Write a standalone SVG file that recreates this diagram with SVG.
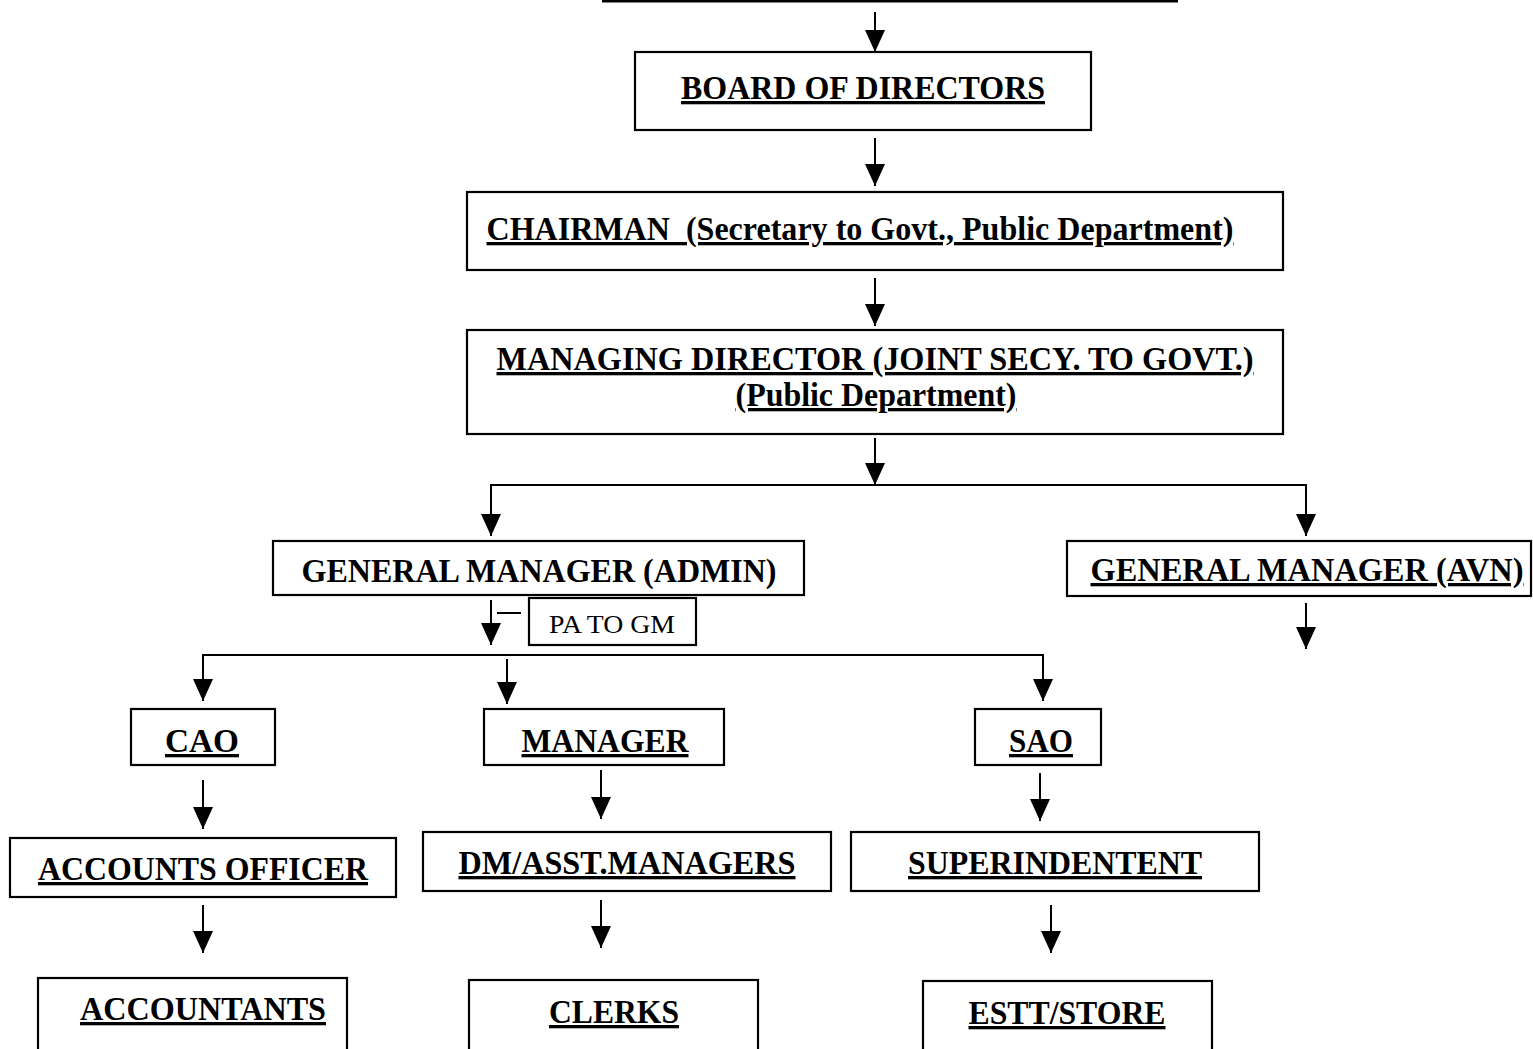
<svg xmlns="http://www.w3.org/2000/svg" width="1533" height="1049" viewBox="0 0 1533 1049">
<defs>
<marker id="arr" markerUnits="userSpaceOnUse" viewBox="0 0 22 20" refX="22" refY="10" markerWidth="22" markerHeight="20" orient="auto">
<path d="M0,0 L22,10 L0,20 z" fill="#000"/>
</marker>
<style>
.box{fill:#fff;stroke:#000;stroke-width:2.2}
.t{font-family:"Liberation Serif","Times New Roman",serif;font-weight:bold;font-size:33px;fill:#000;text-anchor:middle}
.u{text-decoration:underline;text-decoration-thickness:3px}
.n{font-family:"Liberation Serif","Times New Roman",serif;font-size:25px;fill:#000;text-anchor:middle}
.c{stroke:#000;stroke-width:2;fill:none}
.a{stroke:#000;stroke-width:2;fill:none;marker-end:url(#arr)}
</style>
</defs>
<rect width="1533" height="1049" fill="#fff"/>
<g id="connectors">
<line class="c" x1="602" y1="1" x2="1178" y2="1" style="stroke-width:3"/>
<line class="a" x1="875" y1="12" x2="875" y2="52"/>
<line class="a" x1="875" y1="138" x2="875" y2="186"/>
<line class="a" x1="875" y1="278" x2="875" y2="326"/>
<line class="a" x1="875" y1="438" x2="875" y2="485"/>
<polyline class="c" points="491,535 491,485 1306,485 1306,535"/>
<line class="a" x1="491" y1="486" x2="491" y2="536"/>
<line class="a" x1="1306" y1="486" x2="1306" y2="536"/>
<line class="a" x1="1306" y1="603" x2="1306" y2="649"/>
<line class="a" x1="491" y1="600" x2="491" y2="645"/>
<line class="c" x1="497" y1="613" x2="521" y2="613"/>
<polyline class="c" points="203,700 203,655 1043,655 1043,700"/>
<line class="a" x1="203" y1="656" x2="203" y2="701"/>
<line class="a" x1="507" y1="659" x2="507" y2="704"/>
<line class="a" x1="1043" y1="656" x2="1043" y2="701"/>
<line class="a" x1="203" y1="780" x2="203" y2="829"/>
<line class="a" x1="601" y1="770" x2="601" y2="819"/>
<line class="a" x1="1040" y1="773" x2="1040" y2="821"/>
<line class="a" x1="203" y1="905" x2="203" y2="953"/>
<line class="a" x1="601" y1="900" x2="601" y2="948"/>
<line class="a" x1="1051" y1="905" x2="1051" y2="953"/>
</g>
<g id="board"><rect class="box" x="635" y="52" width="456" height="78"/><text class="t u" x="863" y="99" textLength="364" lengthAdjust="spacingAndGlyphs">BOARD OF DIRECTORS</text></g>
<g id="chairman"><rect class="box" x="467" y="192" width="816" height="78"/><text class="t u" x="860" y="240" textLength="747" lengthAdjust="spacingAndGlyphs" xml:space="preserve">CHAIRMAN  (Secretary to Govt., Public Department)</text></g>
<g id="md"><rect class="box" x="467" y="330" width="816" height="104"/><text class="t u" x="875" y="370" textLength="757" lengthAdjust="spacingAndGlyphs">MANAGING DIRECTOR (JOINT SECY. TO GOVT.)</text><text class="t u" x="876" y="406" textLength="281" lengthAdjust="spacingAndGlyphs">(Public Department)</text></g>
<g id="gm-admin"><rect class="box" x="273" y="541" width="531" height="54"/><text class="t" x="539" y="582" textLength="475" lengthAdjust="spacingAndGlyphs">GENERAL MANAGER (ADMIN)</text></g>
<g id="gm-avn"><rect class="box" x="1067" y="541" width="464" height="55"/><text class="t u" x="1307" y="581" textLength="433" lengthAdjust="spacingAndGlyphs">GENERAL MANAGER (AVN)</text></g>
<g id="pa"><rect class="box" x="529" y="598" width="167" height="47"/><text class="n" x="612" y="633" textLength="126" lengthAdjust="spacingAndGlyphs">PA TO GM</text></g>
<g id="cao"><rect class="box" x="131" y="709" width="144" height="56"/><text class="t u" x="202" y="752" textLength="74" lengthAdjust="spacingAndGlyphs">CAO</text></g>
<g id="manager"><rect class="box" x="484" y="709" width="240" height="56"/><text class="t u" x="605" y="752" textLength="167" lengthAdjust="spacingAndGlyphs">MANAGER</text></g>
<g id="sao"><rect class="box" x="975" y="709" width="126" height="56"/><text class="t u" x="1041" y="752" textLength="64" lengthAdjust="spacingAndGlyphs">SAO</text></g>
<g id="acc-officer"><rect class="box" x="10" y="838" width="386" height="59"/><text class="t u" x="203" y="880" textLength="330" lengthAdjust="spacingAndGlyphs">ACCOUNTS OFFICER</text></g>
<g id="dm"><rect class="box" x="423" y="832" width="408" height="59"/><text class="t u" x="627" y="874" textLength="337" lengthAdjust="spacingAndGlyphs">DM/ASST.MANAGERS</text></g>
<g id="supdt"><rect class="box" x="851" y="832" width="408" height="59"/><text class="t u" x="1055" y="874" textLength="294" lengthAdjust="spacingAndGlyphs">SUPERINDENTENT</text></g>
<g id="accountants"><rect class="box" x="38" y="978" width="309" height="90"/><text class="t u" x="203" y="1020" textLength="246" lengthAdjust="spacingAndGlyphs">ACCOUNTANTS</text></g>
<g id="clerks"><rect class="box" x="469" y="980" width="289" height="90"/><text class="t u" x="614" y="1023" textLength="130" lengthAdjust="spacingAndGlyphs">CLERKS</text></g>
<g id="estt"><rect class="box" x="923" y="981" width="289" height="90"/><text class="t u" x="1067" y="1024" textLength="197" lengthAdjust="spacingAndGlyphs">ESTT/STORE</text></g>
</svg>
